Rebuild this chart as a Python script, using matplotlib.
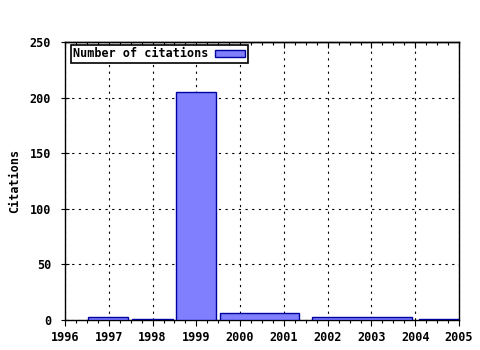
import matplotlib
matplotlib.use("Agg")
from matplotlib import pyplot as plt
from matplotlib.ticker import MultipleLocator

# bins (start year, end year) and number of citations
bar_start = [1996.53, 1997.52, 1998.53, 1999.54, 2001.65, 2004.08]
bar_end = [1997.45, 1998.46, 1999.44, 2001.35, 2003.92, 2005.0]
citations = [3, 1, 205, 6, 3, 1]
year_ticks = list(range(1996, 2006))
y_ticks = [0, 50, 100, 150, 200, 250]

plt.rcParams['font.family'] = ['DejaVu Sans Mono']
plt.rcParams['font.weight'] = 'bold'
plt.rcParams['font.size'] = 8.5

fig = plt.figure(figsize=(4.8, 3.5), dpi=100)
ax = fig.add_axes([65/480, 30/350, (459-65)/480, (320-42)/350])

widths = [e - s for s, e in zip(bar_start, bar_end)]
ax.bar(bar_start, citations, width=widths, align='edge',
       color='#8080ff', edgecolor='#0000a0', linewidth=1.0,
       label='Number of citations', zorder=3)

ax.set_xlim(1996, 2005)
ax.set_ylim(0, 250)
ax.set_xticks(year_ticks)
ax.set_xticklabels([str(y) for y in year_ticks], fontweight='bold')
ax.set_yticks(y_ticks)
ax.set_yticklabels([str(v) for v in y_ticks], fontweight='bold')
ax.xaxis.set_minor_locator(MultipleLocator(0.25))

ax.grid(True, which='major', color='black', linestyle=(0, (2, 4)), linewidth=0.8, zorder=0)

# bottom ticks point out, top ticks point in
ax.tick_params(axis='x', which='major', direction='out', length=4, width=0.8,
               top=False, bottom=True, pad=4, colors='black')
ax.tick_params(axis='x', which='minor', direction='out', length=2.5, width=0.8,
               top=False, bottom=True)
top = ax.secondary_xaxis('top')
top.set_xticks(year_ticks)
top.xaxis.set_minor_locator(MultipleLocator(0.25))
top.tick_params(axis='x', which='major', direction='in', length=4, width=0.8, labeltop=False)
top.tick_params(axis='x', which='minor', direction='in', length=2.5, width=0.8)
top.spines['top'].set_linewidth(1.0)

ax.tick_params(axis='y', which='major', direction='inout', length=6, width=0.8, pad=7)

for side in ['left', 'bottom', 'top', 'right']:
    ax.spines[side].set_linewidth(1.0)
    ax.spines[side].set_color('black')

ax.set_ylabel('Citations', fontweight='bold', labelpad=6)

leg = ax.legend(loc='upper left', bbox_to_anchor=(6/394, 1 - 3/278),
                markerfirst=False, fancybox=False,
                edgecolor='black', framealpha=1, borderpad=0.2,
                handlelength=2.6, handleheight=0.5, handletextpad=0.5,
                borderaxespad=0, prop={'weight': 'bold', 'size': 8.5})
leg.get_frame().set_linewidth(1.2)

fig.savefig('out.png', dpi=100)
